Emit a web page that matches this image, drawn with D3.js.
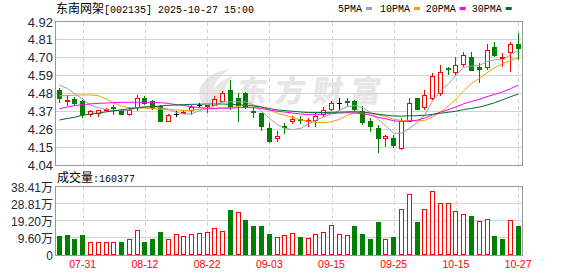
<!DOCTYPE html>
<html><head><meta charset="utf-8">
<script src="https://cdn.jsdelivr.net/npm/d3@7/dist/d3.min.js"></script>
<style>body{margin:0;background:#fff}svg{display:block}</style>
</head><body><svg id="c" width="578" height="276"></svg>
<script>
// ---------- data ----------
const dates = ["07-28","07-29","07-30","07-31","08-01","08-04","08-05","08-06","08-07","08-08",
"08-11","08-12","08-13","08-14","08-15","08-18","08-19","08-20","08-21","08-22",
"08-25","08-26","08-27","08-28","08-29","09-01","09-02","09-03","09-04","09-05",
"09-08","09-09","09-10","09-11","09-12","09-15","09-16","09-17","09-18","09-19",
"09-22","09-23","09-24","09-25","09-26","09-29","09-30","10-09","10-10","10-13",
"10-14","10-15","10-16","10-17","10-20","10-21","10-22","10-23","10-24","10-27"];
const open = [4.50,4.43,4.443,4.435,4.355,4.36,4.375,4.395,4.38,4.355,
4.394,4.449,4.43,4.404,4.31,4.35,4.357,4.375,4.408,4.403,
4.408,4.435,4.50,4.449,4.48,4.37,4.357,4.265,4.204,4.28,
4.31,4.325,4.31,4.316,4.353,4.382,4.42,4.435,4.433,4.37,
4.312,4.265,4.204,4.204,4.145,4.312,4.449,4.398,4.45,4.48,
4.637,4.609,4.66,4.701,4.64,4.64,4.766,4.698,4.736,4.781];
const high = [4.51,4.47,4.46,4.44,4.377,4.38,4.39,4.405,4.385,4.398,
4.47,4.464,4.44,4.41,4.352,4.373,4.377,4.408,4.42,4.41,
4.463,4.494,4.562,4.48,4.486,4.398,4.36,4.296,4.25,4.30,
4.34,4.34,4.327,4.357,4.394,4.435,4.449,4.449,4.44,4.40,
4.327,4.285,4.224,4.224,4.33,4.449,4.45,4.50,4.607,4.654,
4.643,4.70,4.73,4.73,4.668,4.781,4.797,4.726,4.793,4.852];
const low = [4.42,4.40,4.408,4.327,4.333,4.333,4.37,4.345,4.35,4.34,
4.373,4.408,4.38,4.31,4.305,4.333,4.35,4.347,4.39,4.357,
4.405,4.43,4.378,4.302,4.382,4.33,4.25,4.173,4.183,4.23,
4.29,4.29,4.275,4.275,4.336,4.373,4.378,4.40,4.373,4.285,
4.245,4.115,4.152,4.142,4.13,4.302,4.377,4.377,4.44,4.465,
4.59,4.59,4.643,4.62,4.545,4.623,4.705,4.643,4.613,4.685];
const close = [4.453,4.44,4.422,4.35,4.37,4.375,4.385,4.388,4.355,4.378,
4.449,4.419,4.39,4.312,4.345,4.35,4.367,4.395,4.408,4.41,
4.443,4.48,4.398,4.408,4.398,4.362,4.28,4.187,4.218,4.275,
4.325,4.315,4.317,4.34,4.378,4.418,4.42,4.43,4.382,4.306,
4.28,4.204,4.22,4.163,4.31,4.419,4.382,4.47,4.586,4.609,
4.63,4.654,4.715,4.625,4.63,4.746,4.715,4.705,4.781,4.76];
const prevClose = 4.47;
// volume in 万手
const volume = [10.7,11.2,9.0,11.2,7.1,7.1,7.1,7.1,7.1,8.8,
13.9,7.3,9.0,12.9,9.0,11.6,10.5,11.6,12.2,12.7,
15.0,13.3,25.3,24.0,19.7,16.3,16.3,11.8,10.1,11.1,
12.2,10.1,9.6,11.8,12.7,16.7,11.8,11.2,16.3,11.8,
9.2,18.6,9.0,10.1,25.9,34.1,18.6,25.9,35.8,29.1,
29.1,24.6,22.9,21.9,18.9,20.1,10.7,9.0,19.5,16.0377];
// moving-average values before a full window exists
const ma5Lead = [4.53,4.51,4.475,4.445];
const ma10Lead = [4.464,4.466,4.468,4.47,4.47,4.465,4.445,4.42,4.40];
const ma20Lead = [4.385,4.395,4.405,4.41,4.415,4.418,4.42,4.422,4.424,4.425,4.425,4.425,4.424,4.422,4.418,4.41,4.405,4.398,4.392];
const ma30Lead = [4.316,4.325,4.333,4.345,4.352,4.358,4.366,4.372,4.378,4.385,4.39,4.395,4.398,4.402,4.406,4.408,4.41,4.412,4.413,4.414,4.414,4.414,4.412,4.41,4.406,4.402,4.395,4.386,4.378];
const priceTicks = [4.04,4.15,4.26,4.37,4.48,4.59,4.70,4.81,4.92];
const volTicks = [0,9.60,19.20,28.81,38.41];
const volTickLabels = ["0","9.60万","19.20万","28.81万","38.41万"];
const dateTicks = ["07-31","08-12","08-22","09-03","09-15","09-25","10-15","10-27"];
const maNames = ["5PMA","10PMA","20PMA","30PMA"];
const maColors = ["#a0a0a0","#f0a000","#ff00ff","#006b2e"];

// ---------- layout ----------
const svg = d3.select("#c");
const L = 55.5, R = 522;
const pTop = 21.5, pBot = 165;
const vTop = 186.5, vBot = 255;
const RED = "#ff0000", GREEN = "#008000", GRID = "#d3d3d3", BORDER = "#999";

const n = close.length;
const x = d3.scaleBand().domain(d3.range(n)).range([L, R]).paddingInner(0.35).paddingOuter(0.175);
const cx = i => x(i) + x.bandwidth() / 2;
const y = d3.scaleLinear().domain([4.04, 4.92]).range([pBot, pTop]);
const yv = d3.scaleLinear().domain([0, 38.41]).range([vBot, vTop]);
const crisp = v => Math.round(v) + 0.5;

// watermark
const wm = svg.append("g").attr("fill", "#e6e6e6");
wm.append("path").attr("d", "M202,103 C194,88 205,73 230,69 C217,77 210,88 214,103 Z M212,103 C209,91 218,80 234,76 C225,84 222,93 225,103 Z");
wm.append("text").attr("x", 236).attr("y", 102).attr("font-family", "Noto Sans CJK SC")
  .attr("font-weight", 900).attr("font-size", 30).attr("letter-spacing", 8)
  .attr("transform", "skewX(-8) translate(14,0)").text("东方财富");

// grid - price
const gp = svg.append("g");
gp.selectAll("line.h").data(priceTicks).join("line")
  .attr("x1", L).attr("x2", R).attr("y1", d => crisp(y(d) - 0.5)).attr("y2", d => crisp(y(d) - 0.5))
  .attr("stroke", GRID).attr("shape-rendering", "crispEdges");
const tickIdx = dateTicks.map(d => dates.indexOf(d));
gp.selectAll("line.v").data(tickIdx).join("line")
  .attr("x1", d => crisp(cx(d))).attr("x2", d => crisp(cx(d))).attr("y1", pTop).attr("y2", pBot)
  .attr("stroke", GRID).attr("stroke-dasharray", "4,3").attr("shape-rendering", "crispEdges");
// grid - volume
const gv = svg.append("g");
gv.selectAll("line.h").data(volTicks.slice(1, -1)).join("line")
  .attr("x1", L).attr("x2", R).attr("y1", d => crisp(yv(d) - 0.5)).attr("y2", d => crisp(yv(d) - 0.5))
  .attr("stroke", GRID).attr("shape-rendering", "crispEdges");
gv.selectAll("line.v").data(tickIdx).join("line")
  .attr("x1", d => crisp(cx(d))).attr("x2", d => crisp(cx(d))).attr("y1", vTop).attr("y2", vBot)
  .attr("stroke", GRID).attr("stroke-dasharray", "4,3").attr("shape-rendering", "crispEdges");

// borders
svg.append("rect").attr("x", L).attr("y", pTop).attr("width", R - L).attr("height", pBot - pTop)
  .attr("fill", "none").attr("stroke", BORDER).attr("shape-rendering", "crispEdges");
svg.append("rect").attr("x", L).attr("y", vTop).attr("width", R - L).attr("height", vBot - vTop)
  .attr("fill", "none").attr("stroke", BORDER).attr("shape-rendering", "crispEdges");

// candles
const candles = d3.range(n).map(i => ({i, o: open[i], h: high[i], l: low[i], c: close[i]}));
const cg = svg.append("g").attr("shape-rendering", "crispEdges");
const col = d => d.c > d.o ? RED : (d.c < d.o ? GREEN : "#000");
cg.selectAll("line.w").data(candles).join("line")
  .attr("x1", d => crisp(cx(d.i) - 0.5)).attr("x2", d => crisp(cx(d.i) - 0.5))
  .attr("y1", d => y(d.h)).attr("y2", d => y(d.l)).attr("stroke", col);
cg.selectAll("rect.b").data(candles.filter(d => d.c !== d.o)).join("rect")
  .attr("x", d => Math.round(cx(d.i) - 2.5) + 0.5)
  .attr("y", d => Math.round(y(Math.max(d.o, d.c))) + 0.5)
  .attr("width", 4)
  .attr("height", d => Math.max(1, Math.round(y(Math.min(d.o, d.c))) - Math.round(y(Math.max(d.o, d.c)))))
  .attr("fill", d => d.c > d.o ? "#fff" : GREEN).attr("stroke", col);
cg.selectAll("line.d").data(candles.filter(d => d.c === d.o)).join("line")
  .attr("x1", d => Math.round(cx(d.i) - 2.5)).attr("x2", d => Math.round(cx(d.i) - 2.5) + 5)
  .attr("y1", d => crisp(y(d.c))).attr("y2", d => crisp(y(d.c))).attr("stroke", "#000");

// moving averages
function ma(k, lead) {
  return close.map((c, i) => i < k - 1 ? lead[i] : d3.mean(close.slice(i - k + 1, i + 1)));
}
const maSeries = [ma(5, ma5Lead), ma(10, ma10Lead), ma(20, ma20Lead), ma(30, ma30Lead)];
const line = d3.line().x((d, i) => cx(i)).y(d => y(d));
svg.append("g").selectAll("path").data(maSeries).join("path")
  .attr("d", line).attr("fill", "none").attr("stroke", (d, i) => maColors[i]).attr("stroke-width", 1);

// volume bars
const vg = svg.append("g").attr("shape-rendering", "crispEdges");
const up = i => close[i] >= (i === 0 ? prevClose : close[i - 1]);
vg.selectAll("rect").data(d3.range(n)).join("rect")
  .attr("x", i => Math.round(cx(i) - 2.5) + 0.5)
  .attr("y", i => Math.round(yv(volume[i])) + 0.5)
  .attr("width", 4)
  .attr("height", i => Math.round(vBot) - Math.round(yv(volume[i])) - 1)
  .attr("fill", i => up(i) ? "#fff" : GREEN)
  .attr("stroke", i => up(i) ? RED : GREEN);

// axis labels
const axisFont = "Liberation Sans, Arial, sans-serif";
svg.append("g").selectAll("text").data(priceTicks).join("text")
  .attr("x", 53).attr("y", d => y(d) + 5).attr("text-anchor", "end")
  .attr("font-family", axisFont).attr("font-size", 13).attr("fill", "#222a3a")
  .text(d => d.toFixed(2));
svg.append("g").selectAll("text").data(volTicks).join("text")
  .attr("x", 53).attr("y", d => yv(d) + 5).attr("text-anchor", "end")
  .attr("font-family", axisFont + ", Noto Sans CJK SC").attr("font-size", 12).attr("fill", "#222a3a")
  .text((d, i) => volTickLabels[i]);
svg.append("g").selectAll("text").data(tickIdx).join("text")
  .attr("x", d => cx(d)).attr("y", 268).attr("text-anchor", "middle")
  .attr("font-family", axisFont).attr("font-size", 10.5).attr("fill", RED)
  .text(d => dates[d]);

// title
const t = svg.append("text").attr("x", 56).attr("y", 13).attr("fill", "#000").attr("font-size", 12);
t.append("tspan").attr("font-family", "Noto Sans CJK SC").text("东南网架");
t.append("tspan").attr("font-family", "Liberation Mono, monospace").attr("font-size", 11)
  .attr("textLength", 150).attr("lengthAdjust", "spacingAndGlyphs").text("[002135] 2025-10-27 15:00");

// volume header
const vt = svg.append("text").attr("x", 57).attr("y", 182).attr("fill", "#000").attr("font-size", 12);
vt.append("tspan").attr("font-family", "Noto Sans CJK SC").text("成交量");
vt.append("tspan").attr("font-family", "Liberation Mono, monospace").attr("font-size", 11)
  .attr("textLength", 42).attr("lengthAdjust", "spacingAndGlyphs")
  .text(":" + Math.round(volume[n - 1] * 10000));

// legend
const legX = [338, 380, 425.7, 471.7];
const lg = svg.append("g");
maNames.forEach((name, i) => {
  lg.append("text").attr("x", legX[i]).attr("y", 12).attr("font-family", "Liberation Mono, monospace")
    .attr("font-size", 11).attr("textLength", name.length * 6).attr("lengthAdjust", "spacingAndGlyphs")
    .attr("fill", "#000").text(name);
  lg.append("rect").attr("x", legX[i] + name.length * 6 + 4).attr("y", 7).attr("width", 6).attr("height", 3)
    .attr("fill", maColors[i]);
});
</script></body></html>
